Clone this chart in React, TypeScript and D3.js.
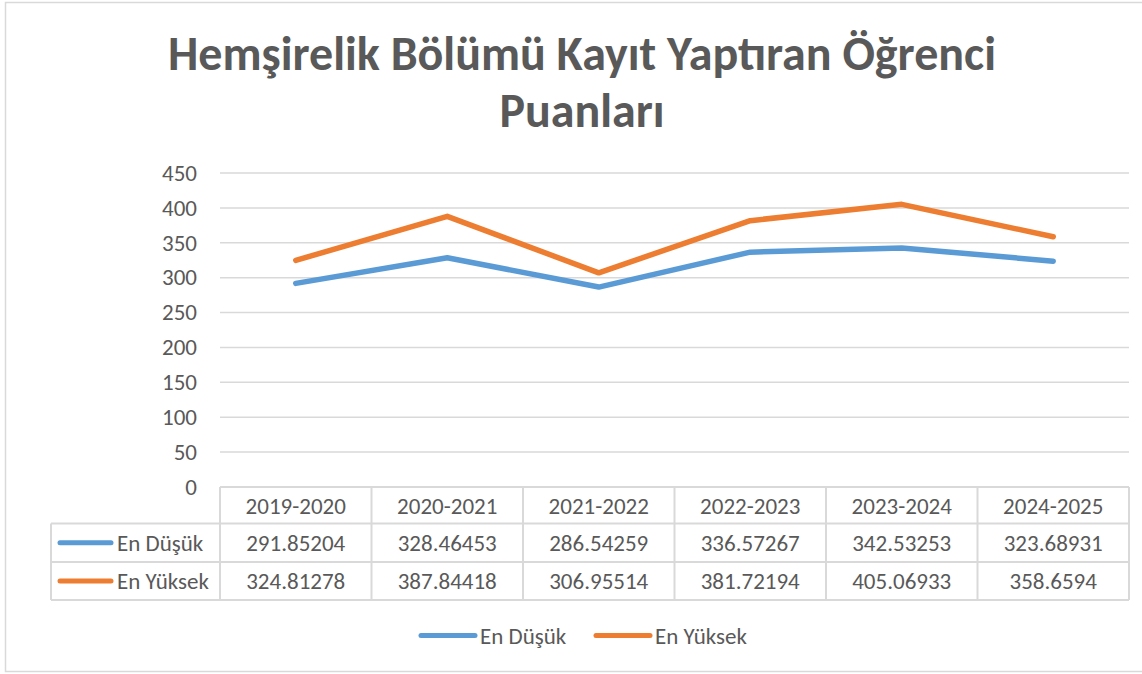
import React from 'react';
import { scaleLinear, scaleBand, line } from 'd3';

const categories = ['2019-2020', '2020-2021', '2021-2022', '2022-2023', '2023-2024', '2024-2025'];
const enDusuk = [291.85204, 328.46453, 286.54259, 336.57267, 342.53253, 323.68931];
const enYuksek = [324.81278, 387.84418, 306.95514, 381.72194, 405.06933, 358.6594];
const yTicks = [0, 50, 100, 150, 200, 250, 300, 350, 400, 450];
const seriesNames = ['En Düşük', 'En Yüksek'];
const titleLines = ['Hemşirelik Bölümü Kayıt Yaptıran Öğrenci', 'Puanları'];

const width = 1142;
const height = 674;
const font = "Calibri, Carlito, 'Open Sans', sans-serif";
const fontSize = 23;
const textColor = '#595959';
const gridColor = '#d9d9d9';
const colors = ['#5b9bd5', '#ed7d31'];

const App = () => {
  const plotLeft = 220;
  const plotRight = 1129;
  const plotTop = 173;
  const plotBottom = 487;
  const labelLeft = 51;
  const rowEdges = [487, 523.5, 562, 600];

  const x = scaleBand().domain(categories).range([plotLeft, plotRight]);
  const y = scaleLinear().domain([0, 450]).range([plotBottom, plotTop]);

  const series = [enDusuk, enYuksek];
  const path = line<number>()
    .x((_, i) => x(categories[i])! + x.bandwidth() / 2)
    .y(d => y(d));

  return (
    <div>
      <style>{`body{margin:0}`}</style>
      <svg width={width} height={height} style={{ display: 'block' }}>
        <rect x={5.5} y={2.5} width={1145} height={669} fill="#fff" stroke={gridColor} strokeWidth={1.5} />

        {titleLines.map((t, i) => (
          <text
            key={`title-${i}`}
            x={582}
            y={70 + i * 57}
            textAnchor="middle"
            fontFamily={font}
            fontWeight="bold"
            fontSize={48}
            fill={textColor}
          >
            {t}
          </text>
        ))}

        {yTicks.map(tick => (
          <g key={`y-${tick}`}>
            {tick > 0 && (
              <line x1={plotLeft} x2={plotRight} y1={y(tick)} y2={y(tick)} stroke={gridColor} strokeWidth={1.5} />
            )}
            <text
              x={197}
              y={y(tick)}
              dy="0.34em"
              textAnchor="end"
              fontFamily={font}
              fontSize={fontSize}
              fill={textColor}
            >
              {tick}
            </text>
          </g>
        ))}

        {/* data table */}
        <g stroke={gridColor} strokeWidth={2} fill="none">
          <line x1={plotLeft} x2={plotRight} y1={rowEdges[0]} y2={rowEdges[0]} />
          {rowEdges.slice(1).map(r => (
            <line key={`row-${r}`} x1={labelLeft} x2={plotRight} y1={r} y2={r} />
          ))}
          <line x1={labelLeft} x2={labelLeft} y1={rowEdges[1]} y2={rowEdges[3]} />
          {categories.map(c => (
            <line key={`col-${c}`} x1={x(c)} x2={x(c)} y1={rowEdges[0]} y2={rowEdges[3]} />
          ))}
          <line x1={plotRight} x2={plotRight} y1={rowEdges[0]} y2={rowEdges[3]} />
        </g>

        {categories.map(c => (
          <text
            key={`cat-${c}`}
            x={x(c)! + x.bandwidth() / 2}
            y={(rowEdges[0] + rowEdges[1]) / 2}
            dy="0.36em"
            textAnchor="middle"
            fontFamily={font}
            fontSize={fontSize}
            fill={textColor}
          >
            {c}
          </text>
        ))}

        {series.map((s, si) => {
          const cy = (rowEdges[si + 1] + rowEdges[si + 2]) / 2;
          return (
            <g key={`row-${si}`}>
              <line x1={60} x2={111} y1={cy} y2={cy} stroke={colors[si]} strokeWidth={5} strokeLinecap="round" />
              <text x={117} y={cy} dy="0.36em" fontFamily={font} fontSize={fontSize} fill={textColor}>
                {seriesNames[si]}
              </text>
              {s.map((v, i) => (
                <text
                  key={`val-${si}-${i}`}
                  x={x(categories[i])! + x.bandwidth() / 2}
                  y={cy}
                  dy="0.36em"
                  textAnchor="middle"
                  fontFamily={font}
                  fontSize={fontSize}
                  fill={textColor}
                >
                  {v}
                </text>
              ))}
            </g>
          );
        })}

        {series.map((s, si) => (
          <path
            key={`line-${si}`}
            d={path(s)!}
            fill="none"
            stroke={colors[si]}
            strokeWidth={5.5}
            strokeLinecap="round"
            strokeLinejoin="round"
          />
        ))}

        {/* legend */}
        {seriesNames.map((n, i) => {
          const lx = i === 0 ? 421 : 596;
          return (
            <g key={`legend-${n}`}>
              <line x1={lx} x2={lx + 54} y1={635.5} y2={635.5} stroke={colors[i]} strokeWidth={5} strokeLinecap="round" />
              <text x={lx + 59} y={635.5} dy="0.36em" fontFamily={font} fontSize={fontSize} fill={textColor}>
                {n}
              </text>
            </g>
          );
        })}
      </svg>
    </div>
  );
};

export default App;
